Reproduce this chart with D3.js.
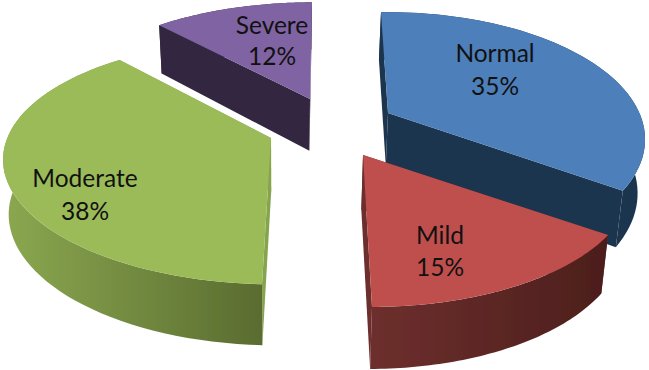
<!DOCTYPE html>
<html>
<head>
<meta charset="utf-8">
<script src="https://cdn.jsdelivr.net/npm/d3@7/dist/d3.min.js"></script>
<style>
    html, body { margin: 0; padding: 0; background: #fff; }
    svg { display: block; }
    text { font-family: Lato, "Open Sans", sans-serif; font-size: 24.5px; fill: #111; text-anchor: middle; }
</style>
</head>
<body>
<div id="chart"></div>
<script>
const categories = ["Normal", "Mild", "Moderate", "Severe"];
const percents = [35, 15, 38, 12];

// looks, kept apart from the data
const topColors = ["#4e7fba", "#bf504e", "#9bbb59", "#8064a2"];
const wallColors = [["#1f3550", "#1f3550"], ["#6d2f2d", "#4c1e1c"], ["#8ba850", "#5a6c30"], ["#33263f", "#33263f"]];
const cutColors = ["#1f3550", "#6d2f2d", "#86a44d", "#33263f"];

// apex of each wedge and how the unit circle lands on the screen
const wedgeGeom = [
    { ax: 388, ay: 113, a: 250, b: -8.4, c: -3, d: 121 },
    { ax: 363, ay: 155, a: 262, b: -7.2, c: -1, d: 121.6 },
    { ax: 271, ay: 138, a: 261, b: 7.2, c: 6, d: 117 },
    { ax: 310, ay: 99, a: 255, b: 2.4, c: 0, d: 116 }
];
const labelSpots = [[495, 62, 95], [440, 244, 276], [85, 187, 220], [272, 34, 65]];

const width = 649, height = 370;
const persp = 0.2;

const svg = d3.select("#chart").append("svg")
    .attr("width", width)
    .attr("height", height);

const defs = svg.append("defs");
defs.append("filter").attr("id", "soft")
    .attr("x", "-5%").attr("y", "-5%").attr("width", "110%").attr("height", "110%")
    .append("feGaussianBlur").attr("stdDeviation", 0.4);

const pie = d3.pie().sort(null).value(d => d);
const arcs = pie(percents);

// side walls go down and lean toward the middle, more so lower in the picture
const depthDx = d3.scaleLinear().domain([280, 623]).range([0, -7]);
const depthDy = d3.scaleLinear().domain([0, 307]).range([47, 62]);

function rimPoint(g, t, r = 1) {
    const X = r * Math.sin(t), Y = r * Math.cos(t), w = 1 + persp * Y;
    return [g.ax + (g.a * X + g.b * Y) / w, g.ay + (g.c * X - g.d * Y) / w];
}
function drop(p) {
    return [p[0] + depthDx(p[0]), p[1] + depthDy(p[1])];
}

const line = d3.line();
const closed = pts => line(pts) + "Z";

// back to front
const order = [3, 0, 2, 1];

order.forEach(i => {
    const g = wedgeGeom[i], arc = arcs[i];
    const steps = d3.range(0, 61).map(k => arc.startAngle + (arc.endAngle - arc.startAngle) * k / 60);
    const rim = steps.map(t => rimPoint(g, t));
    const apex = [g.ax, g.ay];
    const first = rim[0], last = rim[rim.length - 1];

    const grad = defs.append("linearGradient")
        .attr("id", "wall" + i)
        .attr("gradientUnits", "userSpaceOnUse")
        .attr("x1", d3.min(rim, p => p[0])).attr("x2", d3.max(rim, p => p[0]))
        .attr("y1", 0).attr("y2", 0);
    grad.append("stop").attr("offset", 0).attr("stop-color", wallColors[i][0]);
    grad.append("stop").attr("offset", 1).attr("stop-color", wallColors[i][1]);

    const wedge = svg.append("g").attr("class", "wedge").attr("filter", "url(#soft)");

    // cut faces
    [first, last].forEach(edge => {
        wedge.append("path")
            .attr("d", closed([apex, edge, drop(edge), drop(apex)]))
            .attr("fill", cutColors[i]);
    });

    // outer wall
    wedge.append("path")
        .attr("d", closed(rim.concat(rim.map(drop).reverse())))
        .attr("fill", `url(#wall${i})`);

    // top face
    wedge.append("path")
        .attr("d", closed([apex].concat(rim)))
        .attr("fill", topColors[i]);
});

categories.forEach((name, i) => {
    const spot = labelSpots[i];
    svg.append("text").attr("x", spot[0]).attr("y", spot[1]).text(name);
    svg.append("text").attr("x", spot[0]).attr("y", spot[2]).text(percents[i] + "%");
});
</script>
</body>
</html>
